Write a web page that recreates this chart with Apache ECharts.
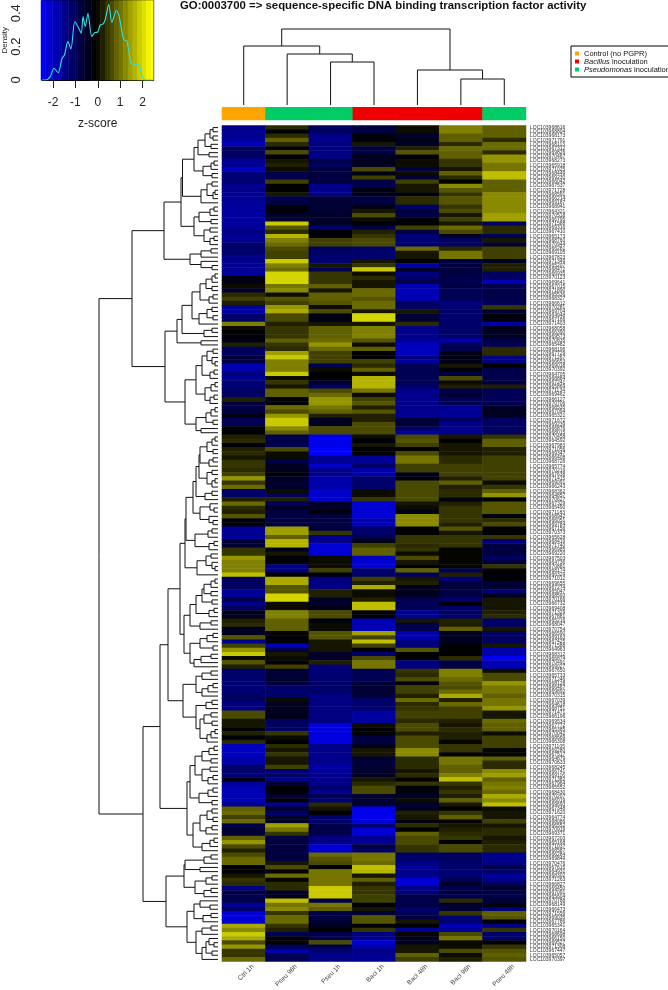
<!DOCTYPE html>
<html><head><meta charset="utf-8">
<style>html,body{margin:0;padding:0;background:#fff}#c{width:668px;height:990px;filter:blur(0.4px)}</style>
<script src="https://cdn.jsdelivr.net/npm/echarts@6/dist/echarts.min.js"></script>
</head><body><div id="c"></div>
<script>
const titleText = 'GO:0003700 => sequence-specific DNA binding transcription factor activity';
const sampleNames = ['Ctrl 1h','Pseu 96h','Pseu 1h','Baci 1h','Baci 48h','Baci 96h','Pseu 48h'];
const ctrl1h = [
-1.3,-1.3,-1.4,-1.4,-1.8,-0.9,-0.9,-1.0,-1.4,-1.4,
-1.8,-1.1,-1.1,-1.1,-1.3,-1.3,-1.4,-1.4,-1.4,-1.5,
-1.5,-1.5,-1.5,-1.5,-1.4,-1.2,-1.4,-1.4,-1.0,-1.0,
-1.0,-1.3,-1.3,-1.4,-1.4,-1.5,-0.2,-0.2,0.1,-0.4,
0.4,0.6,0.3,-1.4,-1.6,-1.0,-1.0,1.2,0.1,-0.05,
-0.05,-0.2,0.3,-0.9,-0.9,-0.6,-0.6,-1.7,-1.6,-1.2,
-1.4,-1.1,-1.1,-0.9,-0.9,0.3,-0.6,-0.6,-0.6,-0.2,
-0.8,-0.8,-0.05,-0.05,0.3,0.4,-0.1,0.3,0.4,0.2,
0.5,0.5,0.4,0.6,1.4,0.5,1.0,-1.0,-1.0,0.3,
1.0,0.4,0.3,0.8,-0.1,-0.1,-1.4,-1.4,-1.4,-0.5,
-0.5,0.5,0.5,1.4,1.2,1.2,1.2,1.8,-0.9,-0.9,
-0.9,-1.4,-1.4,-0.7,-1.3,-0.9,-0.3,-0.3,0.3,0.4,
-0.3,-0.3,0.8,-1.3,0.6,1.4,1.9,0.1,0.8,0.3,
-1.0,-1.0,-1.0,-1.1,-1.1,-1.1,-0.9,-0.9,-1.2,-1.2,
0.7,0.7,0.2,0.2,-0.05,0.3,-0.1,0.4,-1.8,-1.8,
-1.8,-1.6,-1.6,-1.0,-1.0,-1.1,-0.2,-1.4,-1.7,-1.7,
-1.7,-1.7,-1.3,0.9,1.0,0.6,1.0,-0.7,-0.5,-0.5,
0.9,1.4,0.7,0.3,0.7,1.0,1.0,0,-0.1,0.2,
0.5,0.4,-1.2,-0.7,-0.7,-0.7,-1.4,-1.0,-2.0,-2.0,
-2.0,1.6,1.3,1.9,1.6,0.7,1.4,0.5,0.5,1.0];
const pseu96h = [
0.4,-0.1,0.4,0.9,0.4,-0.05,0.7,-0.1,0.2,0.3,
0.1,-0.7,-0.7,0.6,0,0,0.2,-0.7,-0.7,-0.1,
-0.1,-0.4,-0.4,1.9,0.8,0.4,1.7,1.2,1.0,0.7,
0.6,0.6,1.9,1.2,1.0,2.0,2.0,2.0,1.1,1.3,
0.1,0.8,0.6,1.4,1.6,0.7,0.7,0.3,0.5,0.5,
0.5,0.9,0.5,0.4,1.5,1.9,1.2,1.2,1.2,1.9,
0.1,0.5,0.2,0.9,0.9,-0.05,-0.05,1.0,0.7,1.4,
1.9,1.9,1.3,0.9,-0.7,-0.7,-0.7,0.7,0.1,0.1,
-0.7,-0.3,-0.3,0,-0.4,-0.4,-0.4,0.1,-0.8,0.3,
-0.8,-0.4,-0.6,-0.6,-0.6,-0.6,1.5,1.5,0.9,1.7,
1.7,-0.2,0.2,-0.05,-0.1,-1.2,-1.2,0,1.6,1.6,
0.8,0.8,2.0,2.0,0.1,0.1,1.2,1.2,0.9,0.9,
0.9,-0.05,-0.05,-0.1,-1.7,-0.7,0.2,0.1,-0.05,0.6,
-0.5,-0.5,-0.5,-0.5,-1.0,-1.0,-1.0,0.1,-0.3,-0.3,
-0.3,-0.2,-0.9,-0.9,-0.9,0.5,0.1,0,0.4,0.2,
0.5,0.2,0.2,0.6,-1.1,-1.0,-1.3,-0.5,-0.05,-0.05,
-0.5,-0.05,-1.4,-0.4,-1.0,-0.4,-0.3,1.5,1.1,0.5,
-0.6,-0.6,-0.6,-0.6,-0.6,-0.6,0.2,0.7,0,1.0,
0.05,0.4,0.4,-0.3,-0.3,1.8,1.1,1.3,0.5,1.0,
1.0,0.5,0.3,-0.8,-0.1,0.05,-0.8,-1.6,-0.8,-0.8];
const pseu1h = [
-0.9,-0.9,-1.3,-1.3,-1.2,-1.2,-1.2,-1.2,-0.7,-0.9,
-0.6,-0.6,-0.6,-0.6,-1.3,-1.3,-1.3,-0.5,-0.5,-0.5,
-0.5,-0.4,-0.4,-0.3,-1.0,-0.1,-0.1,0.6,0.6,-0.9,
-0.9,-1.1,-1.1,0.2,-0.8,0.5,0.5,0.5,0.9,0.2,
0.9,0.9,0.8,0.1,0.7,-0.2,-0.2,0.2,0.9,0.9,
0.9,1.0,1.4,1.0,0.6,0.6,0.6,-0.8,0.1,0,
0,-0.5,-0.9,0.7,1.0,1.4,1.4,1.1,0.9,0.3,
-0.3,-0.3,0.7,0.7,-2.2,-2.2,-2.2,-2.4,-2.4,-1.4,
-1.4,-1.9,-1.3,-1.3,-1.6,-1.6,-1.6,-1.9,-1.9,-1.9,
-0.4,-0.4,-0.1,-0.6,-0.6,-0.6,-0.6,0.5,-1.3,-1.3,
-2.0,-2.0,-2.0,0.1,0.1,0.1,0.6,-0.1,-1.2,-1.2,
-1.2,0.3,0.3,-0.4,-0.4,-0.2,0.7,0.7,-0.1,0.1,
0.1,0.8,0.8,0.2,0.2,0.2,-0.4,-0.4,0.3,-1.1,
-1.1,-1.1,-1.0,-1.0,-1.0,-1.0,-1.2,-1.2,-1.2,-1.2,
-1.2,-1.2,-1.2,-2.1,-2.1,-2.1,-2.1,-2.1,-1.3,-1.3,
-1.3,-1.3,-1.3,-1.6,-1.4,-1.3,-1.3,-1.3,-1.0,-1.3,
-0.8,-1.1,0.4,0.2,0,-1.0,-1.0,-0.7,-0.7,-0.7,
-1.2,-1.2,-2.0,-2.0,1.0,0.8,0.7,0,1.1,1.1,
1.1,1.1,1.9,1.9,1.9,-0.7,1.1,0.9,-0.7,-0.6,
-0.5,-0.3,-0.05,-0.7,-0.7,0.7,-0.7,-1.1,-1.3,-1.3];
const baci1h = [
-0.6,-0.6,-0.1,-0.1,0.2,-0.6,-0.6,-0.3,-0.3,-0.3,
0.7,-0.2,0.6,-0.7,-0.7,-0.2,-0.2,-0.6,-0.6,-0.2,
0.2,0.7,0.1,-0.1,-0.6,0.3,0.5,0.7,0.7,-1.0,
-1.0,-1.0,0.2,0.5,1.9,0.1,0.4,0.2,0.2,1.0,
1.0,0.8,1.0,1.0,0.2,2.0,2.0,0.2,1.2,1.2,
1.2,0.8,0.1,0.9,0,0,0.6,0.4,0.9,0.1,
1.7,1.7,1.7,1.1,0.1,0.6,0.8,0.3,0.8,0.3,
0.3,0.7,0.7,0.7,0.1,-0.1,0.2,-0.05,-0.05,-1.4,
-1.4,-0.9,-1.6,-1.6,-1.0,-1.0,-1.0,0.1,0.1,0.5,
-2.0,-2.0,-2.0,-2.0,-1.7,-1.7,-1.0,-1.0,-0.7,-0.2,
0.6,0.9,0.9,-1.8,-2.0,-2.0,-1.0,-1.0,0.6,0.3,
1.6,0.1,0.1,0.3,1.8,1.8,-0.05,-0.05,-1.7,-1.7,
-1.7,1.5,0.6,1.8,0.6,-0.1,-1.0,0.7,1.1,1.1,
-0.8,-0.8,-0.8,-0.5,-0.5,-0.5,-0.5,-1.0,-1.0,-1.0,
-1.5,-1.5,-1.5,0.1,-0.05,-0.05,-0.6,-0.6,-0.3,0.2,
0.2,-0.5,-0.5,-0.5,-0.4,-0.3,0.2,0.4,0.7,0.7,
-0.4,-0.5,-0.5,-2.2,-2.2,-2.2,-2.1,-1.0,-2.0,-2.0,
-1.4,-1.4,-0.6,-1.0,1.1,1.1,1.0,1.8,1.7,0.2,
0.9,0.3,0.5,0.5,0.6,0.6,-0.05,0.2,-0.5,0.8,
0.8,-0.05,0.5,-1.2,-1.3,-2.0,-1.6,-1.2,-1.4,-1.4];
const baci48h = [
0.1,0.1,-0.4,-0.3,-0.3,0.3,0.8,-0.1,0.1,0.1,
-0.6,0.1,-0.5,0.6,0.2,0.2,-0.1,0.4,0.4,-1.0,
-0.6,-0.6,-0.1,0,0.6,-0.7,-1.1,-1.1,-1.1,1.0,
0.2,0.2,-0.1,-1.5,-0.4,-1.2,-1.0,-0.7,-1.7,-1.7,
-1.7,-1.7,-0.9,-0.9,0.2,-0.5,-0.5,0.4,-1.3,-1.3,
-1.3,-1.4,-1.8,-1.8,-1.8,-1.2,-1.5,-0.8,-0.8,-0.8,
-0.8,-0.8,-1.0,-1.3,-1.3,-1.3,-1.3,-1.3,-1.3,-1.4,
-0.5,-0.5,-0.9,-1.5,0.7,0.8,0.6,0,0.7,1.1,
1.1,0.6,0.6,-0.2,-0.2,0.7,0.7,0.7,0.7,0.7,
0.2,0.1,-0.2,1.3,1.3,1.3,0,0,0.5,0.5,
0.4,0.5,0.1,0.7,0.2,-0.05,0.9,-0.9,0.2,0.3,
-0.2,-0.3,-0.3,-0.8,-0.8,-0.8,-1.4,-1.4,0.2,-0.7,
-0.7,-1.6,-1.6,-1.2,-1.2,0.8,0,0,-1.2,-1.2,
0.5,0.4,0.7,-0.05,0.6,0.6,0.3,1.0,0.4,0.5,
0.6,0.6,0.4,0.7,0.7,0.3,0.7,0.7,0.7,1.3,
1.3,0.4,0.4,0.4,0.2,0.4,-0.05,0.5,-0.1,-0.2,
-0.3,0.1,-0.5,-0.3,0.3,0.2,-0.1,0.4,-0.05,0.9,
0.7,0.7,0.5,0.5,-1.0,-1.0,-1.3,-1.4,-1.3,-1.3,
-2.0,-2.0,-1.3,-1.2,-0.7,-0.7,-0.7,-1.0,-0.8,-0.6,
0.2,-0.05,-1.4,0.05,-0.3,-0.3,0.2,0.2,0.9,0.6];
const baci96h = [
1.2,1.2,0.9,0.9,0.4,1.0,0.9,0.9,0.5,0.5,
0.2,0.9,0.4,0,1.3,0.8,0.5,0.8,0.8,0.5,
0.7,0.2,0.6,0.2,1.0,0.7,-0.3,-0.9,-0.9,0.4,
1.1,1.1,-0.6,-0.6,-0.6,-0.6,-0.7,-0.7,-0.7,-0.8,
-0.8,-0.8,-1.2,-1.0,-1.0,-1.0,-1.0,-1.0,-1.0,-1.0,
-1.0,-1.6,-0.8,-0.8,-0.2,-0.2,-0.2,0.2,-0.1,-0.6,
0.7,0.1,0.3,-0.7,-0.5,-0.8,-0.8,-1.4,-1.4,-1.4,
-0.9,-1.3,-1.3,-1.3,0.2,-0.05,0.2,0.2,0.2,0.4,
0.4,0.6,0.6,0.6,0.3,0.9,0.3,0.4,0.4,-0.1,
0.3,0.5,0.5,0.5,0.5,0.3,0.8,0.2,0.5,0.5,
0.5,0.05,0.05,0.05,0.05,0.05,-0.7,0.3,-1.2,-0.6,
-0.6,-0.6,-0.7,-1.0,-0.05,-1.0,-1.0,-1.0,0.3,0.3,
0.9,-0.3,-0.3,-0.3,-0.05,-0.05,-0.05,0.4,-0.6,-0.6,
1.2,1.2,1.0,0.8,0.7,1.0,1.6,0.3,1.0,0.6,
0.6,0.6,0.3,0.2,0.4,0.3,0.3,0.05,0.5,0.5,
-0.05,1.1,1.1,0.9,0.9,1.2,1.8,0.5,0.3,0.5,
0.3,0.9,0.2,-0.05,0.5,0.9,0.05,0.2,0.3,0.4,
0.5,-0.05,0.7,0.7,-0.9,-0.9,-1.0,-1.0,-1.1,-1.1,
-0.8,-0.4,-0.7,-0.7,-0.7,0.4,-0.5,-0.5,0.5,-1.1,
-1.1,-1.7,-1.4,0.7,1.1,0.1,0.1,0.7,0.1,0.3];
const pseu48h = [
0.9,0.9,0.9,0.4,1.0,1.0,0.4,1.4,1.4,1.1,
1.1,1.8,1.8,0.9,0.9,0.9,1.3,1.3,1.3,1.3,
1.3,1.5,1.5,-0.9,0.4,0.4,-0.8,0.2,-0.4,0.6,
0.6,0.6,-0.3,0.3,0.3,-0.9,-0.9,-1.7,-0.7,-0.7,
-0.7,-0.7,-0.8,0.5,-0.5,-0.1,-0.1,-1.6,-0.3,-0.3,
-0.3,-0.7,-0.8,0.4,0.4,-1.2,-1.2,0,-0.7,-0.7,
-0.7,-0.6,0.3,-0.8,-0.8,-0.8,-0.8,-0.3,-0.3,-0.3,
-0.9,-0.9,-0.9,-0.9,0.5,0.9,0.9,0.3,0.3,0.6,
0.6,0.6,0.6,0.6,0.6,0.1,0.5,0.9,1.4,0,
0.8,0.8,0.8,-0.1,0.4,0.7,-0.05,-0.05,0.5,-1.2,
-0.6,-0.6,-0.6,-0.9,-0.6,0.5,-0.05,-0.05,-0.05,-0.5,
-0.5,-1.1,-0.3,0.2,0.2,0.2,0.3,0.4,-1.0,-1.0,
0.2,-0.9,-0.9,-0.9,0.2,-1.6,-1.6,-2.3,-1.7,-1.7,
0.1,0.7,0.7,1.4,1.1,1.1,0.9,1.1,1.1,1.4,
0.2,0.2,1.0,0.9,0.9,0.1,0.6,0.6,0.6,0.05,
0.05,0.9,0.4,0.4,1.3,1.5,0.9,1.1,1.2,1.0,
1.6,1.3,1.8,0.1,0.2,0.2,0.6,0.2,0.4,0.4,
0.2,0.3,0.4,0.4,-1.3,-1.3,-1.2,-0.7,-1.0,-1.4,
-1.3,-0.9,-0.4,-0.7,-0.7,-0.5,-0.2,-1.1,0.9,0.8,
-0.1,-1.2,0.5,-1.0,-1.0,-0.1,0.5,0.8,0.9,0.8];
const geneSuffix = [
68616,68804,68173,71791,68113,67312,69826,70467,68273,65918,
71025,68449,69230,66042,67537,71728,68591,66214,69187,68941,
64321,70518,66795,71588,69316,67410,65173,68760,70944,66281,
69105,67823,71349,65207,68472,66935,70123,69641,67015,71890,
65536,68327,66612,70281,69704,64948,67166,71403,68058,66390,
69573,70835,65482,68196,67729,71267,66653,69018,70392,64705,
68884,67241,65869,71134,69462,66127,70706,68535,67094,65321,
71672,69239,66876,68015,70458,64592,67983,71056,69347,66408,
68726,65774,70219,67638,71415,69091,66243,68362,64857,70627,
67329,65490,71183,68942,66051,69784,67156,70373,65628,68419,
71740,66985,69220,67503,64736,70881,68174,66329,71012,69655,
67274,65047,68593,70166,66732,69408,71329,67881,65216,68047,
70754,66590,69163,67425,71588,64963,68312,66874,70491,69027,
67650,65733,71246,68128,66467,69892,70315,67039,64618,68751,
71471,66196,69534,67772,65385,70042,68669,66308,71105,69280,
67517,64879,70633,68245,66741,69116,71382,67964,65552,68430,
70207,66019,69693,67348,71620,64774,68086,66552,70919,69371,
67203,65168,71037,68587,66284,69849,70476,67615,64931,68302,
71263,66827,69450,67091,65604,70788,68149,66473,71556,69035,
67786,65341,70164,68698,66150,69527,71308,67447,65057,70397];
const rowLabels = geneSuffix.map(n => 'LOC1039' + n);
const keyBins = [-2.3,-2.2,-2.1,-2.0,-1.9,-1.8,-1.7,-1.6,-1.5,-1.4,-1.3,-1.2,-1.1,-1.0,-0.9,-0.8,-0.7,-0.6,-0.5,-0.4,-0.3,-0.2,-0.1,0,0.1,0.1,0.3,0.3,0.5,0.5,0.7,0.7,0.9,0.9,1.1,1.1,1.3,1.3,1.5,1.5,1.7,1.7,1.9,1.9,2.1,2.1,2.3,2.3,2.5];
const densityX = [-2.49,-2.32,-2.13,-1.96,-1.77,-1.6,-1.49,-1.34,-1.2,-1.03,-0.89,-0.74,-0.66,-0.56,-0.44,-0.27,-0.13,-0.01,0.11,0.23,0.33,0.49,0.63,0.83,0.97,1.16,1.3,1.49,1.63,1.83,1.97,2.11,2.51];
const densityY = [0,0,0.02,0.07,0.044,0.13,0.15,0.23,0.186,0.35,0.32,0.28,0.38,0.32,0.40,0.26,0.284,0.286,0.33,0.334,0.36,0.452,0.344,0.416,0.37,0.24,0.236,0.1,0.094,0.096,0.03,0,0];
const legendNames = ['Control (no PGPR)','Bacillus inoculation','Pseudomonas inoculation'];
const legendColors = ['#ffa500','#ee0000','#00cc66'];
const sampleGroups = [0,2,2,1,1,1,2];
// dendrograms: [height, upper child, lower child], 0 = leaf
const colTree = [76,[59,0,[51,0,[43,0,0]]],[35,0,[26,0,0]]];
const g1 = [24,[20,[13,[8,[5,0,0],[5,0,0]],[7,0,0]],[9,0,0]],[15,[7,[4,0,0],0],[6,0,0]]];
const g2 = [17,[11,[6,0,0],[5,[3,0,0],0]],0];
const g3 = [24,[19,[8,[4,0,0],0],[7,0,0]],[14,[8,0,0],[8,[4,0,0],0]]];
const a1b = [28,[17,[7,0,0],0],[17,0,[6,0,0]]];
const a1 = [54,[37,[35.5,g1,g2],g3],a1b];
const a2a = [41,[36,[26,[18,[12,[6,[3,0,0],0],[6,0,0]],[9,[5,0,0],0]],[19,[11,[6,0,0],[5,0,0]],0]],[14,[6,0,0],0]],[17,0,0]];
const a2b = [33,[22,[16,[11,[5,0,0],[6,0,[3,0,0]]],[8,[4,0,0],0]],[13,[7,[3,0,0],0],[8,[4,0,0],0]]],[22,[12,[7,[3,0,0],0],[5,0,0]],[17,0,0]]];
const treeA = [86,a1,[53,a2a,a2b]];
const n1 = [33,[32,[25,[22,[19,[18,[11,[6,[3,0,0],0],[5,0,0]],[9,[5,0,0],0]],[11,[6,0,0],[6,[3,0,0],0]]],[13,[6,0,0],0]],[18,[8,0,[4,0,0]],[9,0,[5,0,0]]]],[23,[10,[6,0,0],0],[9,[4,0,0],0]]],[21,[12,[7,0,0],[6,0,[3,0,0]]],0]];
const n2 = [34,[28,[22,[16,[14,[7,[3,0,0],0],[7,0,0]],[6,0,0]],[9,[4,0,0],0]],[18,[7,0,0],0]],[28,[18,[11,[5,0,0],0],[5,0,0]],[24,[17,[7,0,0],0],0]]];
const b1a2 = [35,[22,[16,[7,0,0],0],[16,[10,[5,0,0],0],0]],[22,[12,[6,0,0],0],[18,[14,[7,0,0],[6,0,0]],[11,[7,[3,0,0],0],0]]]];
const b1b = [31,[28,[23,[16,[9,[4,0,0],0],[7,0,0]],[16,[8,0,0],[10,[5,0,0],0]]],[19,[10,[5,0,0],0],[6,0,0]]],[25,[18,[11,[6,0,0],[5,0,0]],[12,[6,0,0],0]],[16,[8,[4,0,0],0],0]]];
const b2 = [52,[34,[33,[14,[7,0,0],0],[18,0,0]],[23,[12,[6,0,0],0],[14,[7,0,0],0]]],[31,[24,[18,0,[8,0,0]],[15,[7,0,0],0]],[22,[16,[7,0,0],0],[16,[12,[9,0,[4,0,0]],[6,0,0]],0]]]];
const treeB = [75,[58,[50,[38,n1,n2],b1a2],b1b],b2];
const rowTree = [119,treeA,treeB];

const columns = [ctrl1h,pseu96h,pseu1h,baci1h,baci48h,baci96h,pseu48h];

function segments(tree, swap){
  const out=[]; let leaf=0;
  const add=(a,b,c,d)=>out.push(swap?[b,a,d,c]:[a,b,c,d]);
  (function walk(n){
    if(n===0) return {p:(leaf++)+0.5,h:0};
    const a=walk(n[1]), b=walk(n[2]);
    add(a.h,a.p,n[0],a.p); add(b.h,b.p,n[0],b.p); add(n[0],a.p,n[0],b.p);
    return {p:(a.p+b.p)/2,h:n[0]};
  })(tree);
  return out;
}
const rowSeg = segments(rowTree,false);
const colSeg = segments(colTree,true);
const drawSeg = (p,api)=>{
  const a=api.coord([api.value(0),api.value(1)]), b=api.coord([api.value(2),api.value(3)]);
  return {type:'line',shape:{x1:a[0],y1:a[1],x2:b[0],y2:b[1]},style:{stroke:'#111',lineWidth:1}};
};
const heatData=[];
columns.forEach((c,x)=>c.forEach((v,y)=>heatData.push([x,y,v])));
const FONT='"Liberation Sans",Arial,sans-serif';
const none={show:false};
const hidden=(o)=>Object.assign({show:false},o);
const chart=echarts.init(document.getElementById('c'),null,{renderer:'canvas'});
chart.setOption({
  animation:false,backgroundColor:'#fff',
  textStyle:{fontFamily:FONT},
  title:{text:titleText,left:180,top:0,padding:0,textStyle:{fontFamily:FONT,fontSize:11.4,fontWeight:'bold',color:'#111'}},
  legend:{
    data:legendNames,orient:'vertical',left:571,top:46,padding:[3.5,3,3.5,4],
    itemWidth:4,itemHeight:4,itemGap:0,icon:'rect',
    borderColor:'#000',borderWidth:1,
    formatter:n=>{const p=n.split(' ');return n.startsWith('Control')?n:'{i|'+p[0]+'} '+p[1];},
    textStyle:{fontFamily:FONT,fontSize:7.5,lineHeight:7.2,color:'#111',rich:{i:{fontStyle:'italic',fontSize:7.5,lineHeight:7.2,fontFamily:FONT,color:'#111'}}}
  },
  grid:[
    {left:222,top:125.5,width:304,height:836},
    {left:222,top:107.3,width:304,height:12.7},
    {left:98,top:125.5,width:120,height:836},
    {left:222,top:20,width:304,height:85},
    {left:41,top:0.5,width:112.3,height:79.5},
    {left:37,top:0.5,width:116.67,height:79.5,show:true,borderColor:'#000',borderWidth:1,backgroundColor:'transparent'},
    {left:231,top:125.5,width:304,height:836}
  ],
  xAxis:[
    hidden({type:'category',gridIndex:0,data:sampleNames}),
    hidden({type:'category',gridIndex:1,data:sampleNames}),
    hidden({type:'value',gridIndex:2,min:0,max:120,inverse:true}),
    hidden({type:'value',gridIndex:3,min:0,max:7}),
    hidden({type:'category',gridIndex:4,data:keyBins.map((b,i)=>String(i))}),
    {type:'value',gridIndex:5,min:-2.5,max:2.5,splitLine:none,
     name:'z-score',nameLocation:'middle',nameGap:38,nameTextStyle:{fontFamily:FONT,fontSize:12,color:'#222'},
     axisLine:{show:true,onZero:false,lineStyle:{color:'#000'}},
     axisTick:{show:true,length:8,customValues:[-2,-1,0,1,2],lineStyle:{color:'#222'}},
     axisLabel:{show:true,margin:17,fontSize:12,color:'#222',fontFamily:FONT,customValues:[-2,-1,0,1,2]}},
    {type:'category',gridIndex:6,data:sampleNames,position:'bottom',axisLine:none,axisTick:none,splitLine:none,
     axisLabel:{rotate:45,fontSize:6.6,color:'#444',margin:5,interval:0,fontFamily:FONT}}
  ],
  yAxis:[
    {type:'category',gridIndex:0,data:rowLabels,inverse:true,position:'right',axisLine:none,axisTick:none,splitLine:none,
     axisLabel:{interval:0,fontSize:5,color:'#333',margin:4,fontFamily:FONT}},
    hidden({type:'category',gridIndex:1,data:['side']}),
    hidden({type:'value',gridIndex:2,min:0,max:200,inverse:true}),
    hidden({type:'value',gridIndex:3,min:0,max:85}),
    hidden({type:'category',gridIndex:4,data:['key']}),
    {type:'value',gridIndex:5,min:0,max:0.476,splitLine:none,
     name:'Density',nameLocation:'middle',nameGap:31,nameTextStyle:{fontFamily:FONT,fontSize:8,color:'#222'},
     axisLine:{show:true,lineStyle:{color:'#000'}},
     axisTick:{show:true,length:8,customValues:[0,0.1,0.2,0.3,0.4],lineStyle:{color:'#222'}},
     axisLabel:{show:true,rotate:90,margin:19,fontSize:13,color:'#222',fontFamily:FONT,customValues:[0,0.2,0.4],formatter:v=>String(v)}},
    hidden({type:'category',gridIndex:6,data:rowLabels,inverse:true})
  ],
  visualMap:{show:false,type:'continuous',min:-2.4,max:2.4,seriesIndex:[0,1],dimension:2,inRange:{color:['#0000ff','#000000','#ffff00']}},
  series:[
    {type:'heatmap',xAxisIndex:0,yAxisIndex:0,data:heatData,progressive:0,itemStyle:{borderWidth:0}},
    {type:'heatmap',xAxisIndex:4,yAxisIndex:4,data:keyBins.map((b,i)=>[i,0,b]),itemStyle:{borderWidth:0}},
    ...legendNames.map((n,g)=>({type:'heatmap',name:n,xAxisIndex:1,yAxisIndex:1,
      itemStyle:{color:legendColors[g],borderWidth:0},
      data:sampleGroups.map((s,x)=>s===g?[x,0,1]:null).filter(Boolean)})),
    {type:'custom',xAxisIndex:2,yAxisIndex:2,data:rowSeg,renderItem:drawSeg,encode:{x:[0,2],y:[1,3]},silent:true},
    {type:'custom',xAxisIndex:3,yAxisIndex:3,data:colSeg,renderItem:drawSeg,encode:{x:[0,2],y:[1,3]},silent:true},
    {type:'line',xAxisIndex:5,yAxisIndex:5,data:densityX.map((x,i)=>[x,densityY[i]]),showSymbol:false,smooth:0.25,
     lineStyle:{color:'#2fe0e0',width:1.1},z:5,silent:true}
  ]
});
</script></body></html>
